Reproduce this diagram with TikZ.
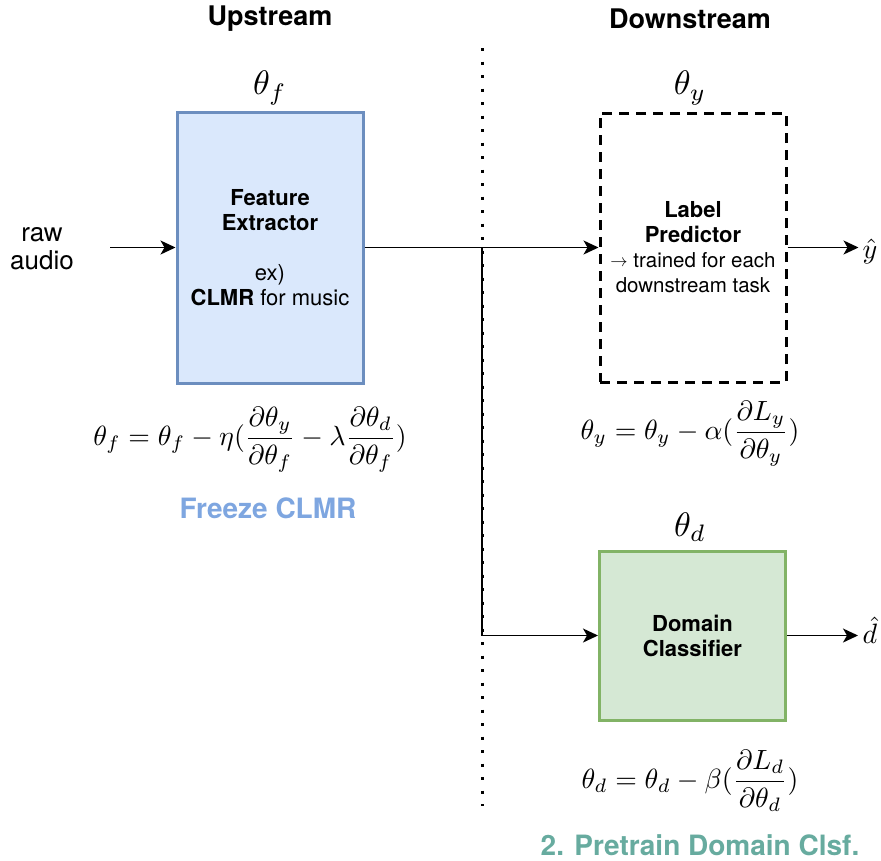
\documentclass[tikz,border=0pt]{standalone}
\usepackage{fontspec}
\setmainfont{TeX Gyre Heros}
\usetikzlibrary{arrows.meta}
\definecolor{feFill}{HTML}{DAE8FC}
\definecolor{feLine}{HTML}{6C8EBF}
\definecolor{dcFill}{HTML}{D5E8D4}
\definecolor{dcLine}{HTML}{82B366}
\definecolor{freezeC}{HTML}{7EA6E0}
\definecolor{pretrainC}{HTML}{67AB9F}
\tikzset{
  block/.style={draw, line width=3pt, minimum width=186pt, align=center,
    font=\fontsize{22}{25}\selectfont, inner sep=0pt},
  heading/.style={font=\fontsize{27}{30}\selectfont\bfseries},
  mathlbl/.style={scale=3.4, inner sep=0pt},
  hatlbl/.style={scale=2.8, inner sep=0pt},
  eqn/.style={scale=2.78, inner sep=0pt},
  note/.style={font=\fontsize{28}{30}\selectfont\bfseries},
  conn/.style={line width=1.5pt, -{Stealth[length=15pt,width=14pt,inset=4pt]}},
  plain/.style={line width=1.5pt},
  divider/.style={line width=3pt, dash pattern=on 3pt off 10.5pt}
}
\begin{document}
\begin{tikzpicture}[x=1pt,y=-1pt]
\useasboundingbox (0,0) rectangle (881,860);

% divider between the two halves
\coordinate (dtop) at (482,48);
\coordinate (dbot) at (482,806);
\draw[divider] (dtop) -- (dbot);

% headings
\node[heading] (up) at (270,19) {Upstream};
\node[heading] (down) at (690,19) {Downstream};

% blocks
\node[block, fill=feFill, draw=feLine, minimum height=271pt] (fe) at (270,247.5)
  {\textbf{Feature}\\\textbf{Extractor}\\[25pt]ex)\\\textbf{CLMR} for music};
\node[block, dash pattern=on 10pt off 7pt, minimum height=269pt] (lp) at (693,247.5)
  {\textbf{Label}\\\textbf{Predictor}\\{\fontsize{20.5}{24}\selectfont\raisebox{1pt}{\fontsize{17}{17}\selectfont$\rightarrow$} trained for each}\\{\fontsize{20.5}{24}\selectfont downstream task}};
\node[block, fill=dcFill, draw=dcLine, minimum height=169pt] (dc) at (692.5,635.5)
  {\textbf{Domain}\\\textbf{Classifier}};

% parameter labels
\node[mathlbl] (tf) at (270,88) {$\theta_f$};
\node[mathlbl] (ty) at (690,88) {$\theta_y$};
\node[mathlbl] (td) at (690,527) {$\theta_d$};

% update rules
\node[eqn] (eqf) at (250,440) {$\displaystyle \theta_f=\theta_f-\eta(\frac{\partial\theta_y}{\partial\theta_f}-\lambda\frac{\partial\theta_d}{\partial\theta_f})$};
\node[eqn] (eqy) at (690,434) {$\displaystyle \theta_y=\theta_y-\alpha(\frac{\partial L_y}{\partial\theta_y})$};
\node[eqn] (eqd) at (690,781) {$\displaystyle \theta_d=\theta_d-\beta(\frac{\partial L_d}{\partial\theta_d})$};

% notes
\node[note, text=freezeC] (freeze) at (268,508) {Freeze CLMR};
\node[note, text=pretrainC] (pretrain) at (700,845) {2. Pretrain Domain Clsf.};

% input and outputs
\node[align=center, font=\fontsize{26}{28}\selectfont] (raw) at (42,249) {raw\\audio};
\coordinate (rawend) at (110,247.5);
\node[hatlbl, anchor=west] (yhat) at (862,251) {$\hat y$};
\node[hatlbl, anchor=west] (dhat) at (862,630) {$\hat d$};

% connectors
\draw[conn] (rawend) -- (fe.west);
\draw[conn] (fe.east) -- (lp.west);
\coordinate (j) at (482,247.5);
\draw[plain] (j) -- (j |- dc.west);
\draw[conn] (j |- dc.west) -- (dc.west);
\draw[conn] (lp.east) -- ++(71,0) coordinate (yend);
\draw[conn] (dc.east) -- ++(71,0) coordinate (dend);
\end{tikzpicture}
\end{document}
